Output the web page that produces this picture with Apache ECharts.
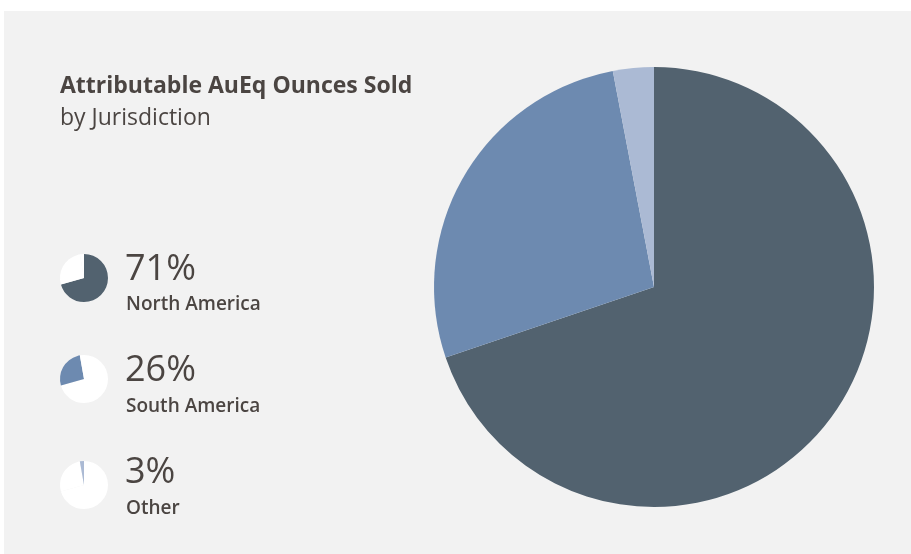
<!DOCTYPE html>
<html>
<head>
<meta charset="utf-8">
<script src="https://cdn.jsdelivr.net/npm/echarts@6/dist/echarts.min.js"></script>
<style>
html,body{margin:0;padding:0;background:#ffffff;}
#chart{width:911px;height:554px;}
</style>
</head>
<body>
<div id="chart"></div>
<script>
const categories = ['North America', 'South America', 'Other'];
const values = [69.8, 27.2, 3.0];
const smallValues = [70.6, 26.6, 2.8];
const pctLabels = ['71%', '26%', '3%'];
const colors = ['#52626f', '#6d8ab0', '#abbad4'];
const titleText = 'Attributable AuEq Ounces Sold';
const subtitleText = 'by Jurisdiction';

const textColor = '#4b4542';
const FONT = '"Open Sans", sans-serif';

const series = [{
  type: 'pie',
  center: [654, 287],
  radius: 220,
  startAngle: 90,
  label: { show: false },
  labelLine: { show: false },
  silent: true,
  itemStyle: { borderWidth: 0 },
  data: categories.map((c, i) => ({ name: c, value: values[i], itemStyle: { color: colors[i] } }))
}];

const legendY = [278, 379, 485];
categories.forEach((c, k) => {
  series.push({
    type: 'pie',
    center: [84, legendY[k]],
    radius: 24,
    startAngle: 90,
    label: { show: false },
    labelLine: { show: false },
    silent: true,
    itemStyle: { borderWidth: 0 },
    data: categories.map((cc, i) => ({ name: cc, value: smallValues[i], itemStyle: { color: i === k ? colors[i] : '#ffffff' } }))
  });
});

const graphics = [
  { type: 'rect', shape: { x: 4, y: 11, width: 907, height: 543 }, style: { fill: '#f2f2f2' }, z: -10, silent: true },
  { type: 'text', x: 60, y: 86, style: { text: titleText, font: '700 23px ' + FONT, fill: textColor, verticalAlign: 'middle' } },
  { type: 'text', x: 60, y: 118, style: { text: subtitleText, font: '400 23px ' + FONT, fill: textColor, verticalAlign: 'middle' } }
];
const pctY = [270, 371, 473];
const nameY = [305, 407, 509];
categories.forEach((c, k) => {
  graphics.push({ type: 'text', x: 125, y: pctY[k], style: { text: pctLabels[k], font: '400 36px ' + FONT, fill: textColor, verticalAlign: 'middle' } });
  graphics.push({ type: 'text', x: 126, y: nameY[k], style: { text: c, font: '600 19px ' + FONT, fill: textColor, verticalAlign: 'middle' } });
});

const chart = echarts.init(document.getElementById('chart'));
chart.setOption({
  backgroundColor: '#ffffff',
  animation: false,
  graphic: graphics,
  series: series
});
</script>
</body>
</html>
